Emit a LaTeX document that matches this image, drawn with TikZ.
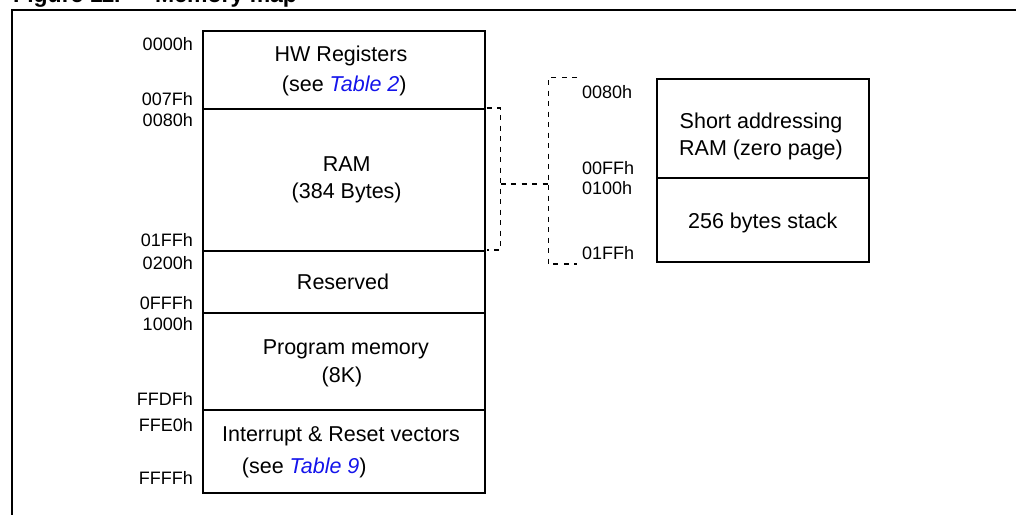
\documentclass[tikz,border=0pt]{standalone}
\usepackage{fontspec}
\setmainfont{Liberation Sans}
\begin{document}
\begin{tikzpicture}[x=1pt,y=-1pt,
  memcell/.style={draw, line width=2pt, inner sep=0pt, anchor=north west},
  maintxt/.style={font=\fontsize{21.5}{24}\selectfont, inner sep=0pt, anchor=base},
  addrL/.style={font=\fontsize{18}{20}\selectfont, inner sep=0pt, anchor=base east},
  addrR/.style={font=\fontsize{18}{20}\selectfont, inner sep=0pt, anchor=base west},
  link/.style={draw, line width=1.5pt, dash pattern=on 5pt off 5.5pt},
  frameline/.style={draw, line width=2pt}]
\useasboundingbox (0,0) rectangle (1016,514);
\clip (0,0) rectangle (1016,514);
\definecolor{linkblue}{RGB}{20,20,235}
% title (cut off at the top)
\node[font=\bfseries\fontsize{23}{26}\selectfont, inner sep=0pt, anchor=base west] (t1) at (13,2) {Figure 11.};
\node[font=\bfseries\fontsize{23}{26}\selectfont, inner sep=0pt, anchor=base west] (t2) at (155,2) {Memory map};
% outer frame
\coordinate (fa) at (1030,10);
\coordinate (fb) at (12,10);
\coordinate (fc) at (12,530);
\draw[frameline] (fa) -- (fb) -- (fc);
% main memory column
\node[memcell, minimum width=282pt, minimum height=78pt] (hw) at (202,30) {};
\node[memcell, minimum width=282pt, minimum height=142pt] (ram) at (202,108) {};
\node[memcell, minimum width=282pt, minimum height=62pt] (res) at (202,250) {};
\node[memcell, minimum width=282pt, minimum height=97pt] (prog) at (202,312) {};
\node[memcell, minimum width=282pt, minimum height=83pt] (intr) at (202,409) {};
% texts in the column
\node[maintxt] (hwa) at (341,61.7) {HW Registers};
\node[maintxt, anchor=base west] (hwb) at (281.7,91.7) {(see \textcolor{linkblue}{\itshape Table 2})};
\node[maintxt] (rama) at (346.7,171.7) {RAM};
\node[maintxt] (ramb) at (346.7,198.3) {(384 Bytes)};
\node[maintxt] (resa) at (343,289.3) {Reserved};
\node[maintxt] (proga) at (345.8,354.3) {Program memory};
\node[maintxt] (progb) at (342,382.7) {(8K)};
\node[maintxt] (intra) at (341,441.7) {Interrupt \& Reset vectors};
\node[maintxt, anchor=base west] (intrb) at (241.7,473.3) {(see \textcolor{linkblue}{\itshape Table 9})};
% addresses, left column
\node[addrL] (a1) at (193,50) {0000h};
\node[addrL] (a2) at (193,105.3) {007Fh};
\node[addrL] (a3) at (193,126) {0080h};
\node[addrL] (a4) at (193,246.7) {01FFh};
\node[addrL] (a5) at (193,269.3) {0200h};
\node[addrL] (a6) at (193,309.3) {0FFFh};
\node[addrL] (a7) at (193,330.7) {1000h};
\node[addrL] (a8) at (193,405.7) {FFDFh};
\node[addrL] (a9) at (193,431.7) {FFE0h};
\node[addrL] (a10) at (193,484) {FFFFh};
% zero page / stack column
\node[memcell, minimum width=212pt, minimum height=99pt] (zp) at (656,78.3) {};
\node[memcell, minimum width=212pt, minimum height=84pt] (stk) at (656,177.3) {};
\node[maintxt] (zpa) at (761,128.3) {Short addressing};
\node[maintxt] (zpb) at (761,155) {RAM (zero page)};
\node[maintxt] (stka) at (762.8,228.3) {256 bytes stack};
\node[addrR] (b1) at (582,98.3) {0080h};
\node[addrR] (b2) at (582,174.3) {00FFh};
\node[addrR] (b3) at (582,194) {0100h};
\node[addrR] (b4) at (582,259.3) {01FFh};
% dashed brackets
\coordinate (r1) at (486.5,108);
\coordinate (r2) at (486.5,250);
\coordinate (m1) at (500.5,184);
\coordinate (m2) at (548.3,184);
\coordinate (s1) at (577,77.3);
\coordinate (s2) at (577,264);
\draw (r1) -- ++(0,0);
\path[link] (r1) -- (500.5,108) -- (500.5,250) -- (r2);
\path[link] (m1) -- (m2);
\path[link] (s1) -- (548.3,77.3) -- (548.3,264) -- (s2);
\end{tikzpicture}
\end{document}
